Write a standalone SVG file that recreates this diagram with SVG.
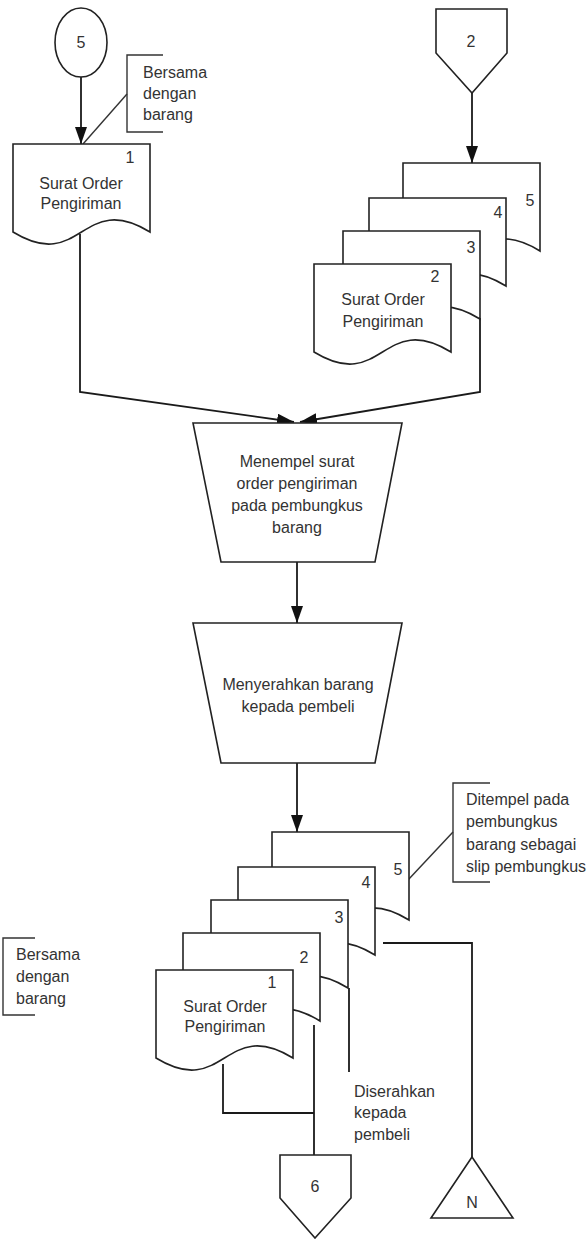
<svg xmlns="http://www.w3.org/2000/svg" xmlns:xlink="http://www.w3.org/1999/xlink" width="588" height="1239" viewBox="0 0 588 1239">
  <style>
    .shape { fill: #fff; stroke: #222; stroke-width: 1.6; }
    .line { fill: none; stroke: #1a1a1a; stroke-width: 1.8; }
    .thin { fill: none; stroke: #333; stroke-width: 1.4; }
    .txt { font-family: "Liberation Sans", Arial, sans-serif; font-size: 16px; fill: #333; }
    .mid { text-anchor: middle; }
    .num { font-family: "Liberation Sans", Arial, sans-serif; font-size: 16px; fill: #333; text-anchor: middle; }
  </style>
  <defs>
    <!-- flowchart document symbol, 137 x 88 with wavy bottom -->
    <path id="doc" d="M0,0 H137 V88 C68.5,46 68.5,130 0,88 Z"/>
    <marker id="arrow" markerUnits="userSpaceOnUse" markerWidth="17" markerHeight="12" refX="17" refY="6" orient="auto">
      <path d="M0,0 L17,6 L0,12 Z" fill="#111"/>
    </marker>
  </defs>

  <rect width="588" height="1239" fill="#fff"/>

  <!-- connectors -->
  <g id="connectors">
    <line class="line" x1="81" y1="77" x2="81" y2="144" marker-end="url(#arrow)"/>
    <line class="line" x1="472" y1="93" x2="472" y2="163" marker-end="url(#arrow)"/>
    <polyline class="line" points="80,234 80,392 294,422" marker-end="url(#arrow)"/>
    <polyline class="line" points="480,318 480,392 300,422" marker-end="url(#arrow)"/>
    <line class="line" x1="297" y1="562" x2="297" y2="623" marker-end="url(#arrow)"/>
    <line class="line" x1="297" y1="763" x2="297" y2="832" marker-end="url(#arrow)"/>
    <polyline class="line" points="223,1064 223,1113 314,1113"/>
    <line class="line" x1="314" y1="1025" x2="314" y2="1155"/>
    <line class="line" x1="349" y1="988" x2="349" y2="1072"/>
    <polyline class="line" points="383,943 472,943 472,1157"/>
    <line class="thin" x1="127" y1="94" x2="83" y2="144"/>
    <line class="thin" x1="453" y1="832" x2="408" y2="880"/>
  </g>

  <!-- on-page connector 5 -->
  <g id="conn-5">
    <ellipse class="shape" cx="81" cy="42.5" rx="26" ry="34.5"/>
    <text class="num" x="81" y="48">5</text>
  </g>

  <!-- off-page connector 2 -->
  <g id="offpage-2">
    <polygon class="shape" points="436,9 507,9 507,53 472,93 436,53"/>
    <text class="num" x="471" y="47">2</text>
  </g>

  <!-- note: bersama dengan barang (top) -->
  <g id="note-top">
    <polyline class="thin" points="163,55 127,55 127,132 163,132"/>
    <text class="txt" x="143" y="78">Bersama</text>
    <text class="txt" x="143" y="99">dengan</text>
    <text class="txt" x="143" y="120">barang</text>
  </g>

  <!-- surat order pengiriman lembar 1 -->
  <g id="doc-top-1" transform="translate(13,144)">
    <use href="#doc" xlink:href="#doc" class="shape"/>
    <text class="num" x="117" y="19">1</text>
    <text class="txt mid" x="68" y="45">Surat Order</text>
    <text class="txt mid" x="68" y="65">Pengiriman</text>
  </g>

  <!-- surat order pengiriman lembar 2-5 -->
  <g id="doc-top-5" transform="translate(403,163)">
    <use href="#doc" xlink:href="#doc" class="shape"/>
    <text class="num" x="127" y="43">5</text>
  </g>
  <g id="doc-top-4" transform="translate(369,198)">
    <use href="#doc" xlink:href="#doc" class="shape"/>
    <text class="num" x="129" y="20">4</text>
  </g>
  <g id="doc-top-3" transform="translate(343,231)">
    <use href="#doc" xlink:href="#doc" class="shape"/>
    <text class="num" x="128" y="22">3</text>
  </g>
  <g id="doc-top-2" transform="translate(314,264)">
    <use href="#doc" xlink:href="#doc" class="shape"/>
    <text class="num" x="121" y="18">2</text>
    <text class="txt mid" x="69" y="41">Surat Order</text>
    <text class="txt mid" x="69" y="63">Pengiriman</text>
  </g>

  <!-- manual process: menempel surat order -->
  <g id="proc-menempel">
    <polygon class="shape" points="193,423 402,423 375,562 221,562"/>
    <text class="txt mid" x="297" y="467">Menempel surat</text>
    <text class="txt mid" x="297" y="489">order pengiriman</text>
    <text class="txt mid" x="297" y="511">pada pembungkus</text>
    <text class="txt mid" x="297" y="533">barang</text>
  </g>

  <!-- manual process: menyerahkan barang -->
  <g id="proc-menyerahkan">
    <polygon class="shape" points="193,623 402,623 375,763 221,763"/>
    <text class="txt mid" x="298" y="690">Menyerahkan barang</text>
    <text class="txt mid" x="298" y="712">kepada pembeli</text>
  </g>

  <!-- surat order pengiriman lembar 1-5 (output) -->
  <g id="doc-bot-5" transform="translate(272,832)">
    <use href="#doc" xlink:href="#doc" class="shape"/>
    <text class="num" x="126" y="43">5</text>
  </g>
  <g id="doc-bot-4" transform="translate(238,867)">
    <use href="#doc" xlink:href="#doc" class="shape"/>
    <text class="num" x="128" y="21">4</text>
  </g>
  <g id="doc-bot-3" transform="translate(211,900)">
    <use href="#doc" xlink:href="#doc" class="shape"/>
    <text class="num" x="128" y="23">3</text>
  </g>
  <g id="doc-bot-2" transform="translate(183,933)">
    <use href="#doc" xlink:href="#doc" class="shape"/>
    <text class="num" x="121" y="30">2</text>
  </g>
  <g id="doc-bot-1" transform="translate(156,970)">
    <use href="#doc" xlink:href="#doc" class="shape"/>
    <text class="num" x="116" y="18">1</text>
    <text class="txt mid" x="69" y="42">Surat Order</text>
    <text class="txt mid" x="69" y="62">Pengiriman</text>
  </g>

  <!-- note: ditempel pada pembungkus -->
  <g id="note-slip">
    <polyline class="thin" points="490,783 453,783 453,882 490,882"/>
    <text class="txt" x="466" y="805">Ditempel pada</text>
    <text class="txt" x="466" y="827">pembungkus</text>
    <text class="txt" x="466" y="850">barang sebagai</text>
    <text class="txt" x="466" y="872">slip pembungkus</text>
  </g>

  <!-- note: bersama dengan barang (bottom) -->
  <g id="note-bottom">
    <polyline class="thin" points="35,938 3,938 3,1015 35,1015"/>
    <text class="txt" x="16" y="960">Bersama</text>
    <text class="txt" x="16" y="982">dengan</text>
    <text class="txt" x="16" y="1004">barang</text>
  </g>

  <!-- label: diserahkan kepada pembeli -->
  <g id="label-diserahkan">
    <text class="txt" x="354" y="1097">Diserahkan</text>
    <text class="txt" x="354" y="1118">kepada</text>
    <text class="txt" x="354" y="1140">pembeli</text>
  </g>

  <!-- off-page connector 6 -->
  <g id="offpage-6">
    <polygon class="shape" points="280,1155 351,1155 351,1198 315,1238 280,1198"/>
    <text class="num" x="315" y="1192">6</text>
  </g>

  <!-- file: N -->
  <g id="file-N">
    <polygon class="shape" points="472,1157 513,1218 431,1218"/>
    <text class="num" x="472" y="1208">N</text>
  </g>
</svg>
